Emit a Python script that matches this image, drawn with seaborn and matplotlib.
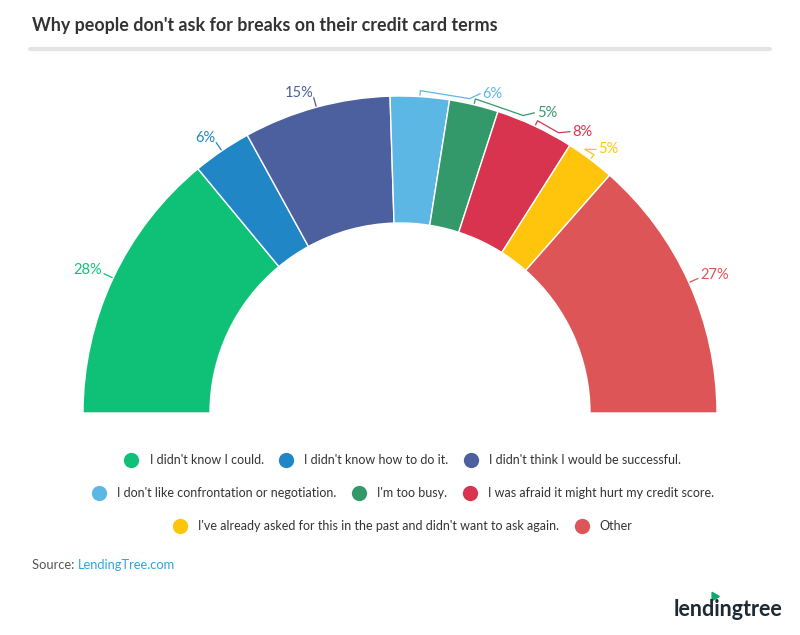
import numpy as np
import matplotlib.pyplot as plt
from matplotlib.lines import Line2D
import seaborn as sns

# survey answers and shares (%)
reasons = [
    "I didn't know I could.",
    "I didn't know how to do it.",
    "I didn't think I would be successful.",
    "I don't like confrontation or negotiation.",
    "I'm too busy.",
    "I was afraid it might hurt my credit score.",
    "I've already asked for this in the past and didn't want to ask again.",
    "Other",
]
shares = [28, 6, 15, 6, 5, 8, 5, 27]
pct_labels = ["28%", "6%", "15%", "6%", "5%", "8%", "5%", "27%"]

colors = ["#0fc177", "#2086c6", "#4c5f9e", "#5db7e4",
          "#33996a", "#d8344f", "#fec50c", "#de5557"]

sns.set_theme(style="white")
plt.rcParams['font.family'] = ['Lato', 'DejaVu Sans']
pal = sns.color_palette(colors)

fig = plt.figure(figsize=(8, 6.35), dpi=100)
ax = fig.add_axes([0, 0, 1, 1])

cx, cy = 400, 222
R, ring = 317, 127
total = sum(shares)

wedges, _ = ax.pie(shares + [total], colors=list(pal) + ['white'],
                   startangle=180, counterclock=False, radius=R,
                   center=(cx, cy),
                   wedgeprops=dict(width=ring, edgecolor='white', linewidth=1))
wedges[-1].set_visible(False)
ax.set_xlim(0, 800)
ax.set_ylim(0, 635)
ax.axis('off')

# label placement: crowded labels near the top are nudged to the right
nudge = {3: 75.5, 4: 65.5, 5: 58.5, 6: 53.0}


def pt(ang, r):
    a = np.radians(ang)
    return cx + r * np.cos(a), cy + r * np.sin(a)


cum = 0
for i, v in enumerate(shares):
    mid = 180 - (cum + v / 2) / (2 * total) * 360
    cum += v
    c = pal[i]
    if i in nudge:
        la = nudge[i]
        pts = [pt(mid, R + 1), pt(mid, R + 6), pt(la + 2, R + 5)]
        tx, ty = pt(la, R + 13)
        ax.plot([p[0] for p in pts] + [tx - 2], [p[1] for p in pts] + [ty],
                color=c, lw=0.9, solid_capstyle='butt')
        ax.text(tx, ty, pct_labels[i], color=c, fontsize=10.5,
                ha='left', va='center')
    else:
        p0, p1 = pt(mid, R + 1), pt(mid, R + 10)
        ax.plot([p0[0], p1[0]], [p0[1], p1[1]], color=c, lw=0.9)
        tx, ty = pt(mid, R + 12)
        ha = 'right' if tx < cx else 'left'
        ax.text(tx, ty + 3, pct_labels[i], color=c, fontsize=10.5,
                ha=ha, va='center')

# title and rule
fig.text(32 / 800, 1 - 26 / 635, "Why people don't ask for breaks on their credit card terms",
         fontsize=12.9, fontweight='bold', color='#333333', va='center')
ax.plot([30, 770], [635 - 49, 635 - 49], color='#e4e4e4', lw=3)

# legend, three centered rows
rows = [[0, 1, 2], [3, 4, 5], [6, 7]]
row_y = [460, 493, 526]
for idx, y in zip(rows, row_y):
    handles = [Line2D([], [], marker='o', ls='none', markersize=11,
                      markerfacecolor=pal[k], markeredgecolor='none') for k in idx]
    fig.legend(handles, [reasons[k] for k in idx], loc='center',
               bbox_to_anchor=(0.5, 1 - y / 635), ncol=len(idx), frameon=False,
               fontsize=9, handletextpad=0.45, columnspacing=0.8,
               labelcolor='#333333', borderaxespad=0)

# source and logo
t = fig.text(32 / 800, 1 - 565 / 635, "Source: ", fontsize=9.3, color='#555555', va='center')
fig.canvas.draw()
bb = t.get_window_extent()
fig.text(bb.x1 / 800, 1 - 565 / 635, "LendingTree.com", fontsize=9.3,
         color='#2ca6de', va='center')
fig.text(782 / 800, 1 - 609 / 635, "lendingtree", fontsize=15.5, fontweight='bold',
         color='#1d2a33', ha='right', va='center')
ax.plot([714], [635 - 596], marker=(3, 0, 30), markersize=7, color='#0fa86a')

fig.savefig("out.png", dpi=100)
